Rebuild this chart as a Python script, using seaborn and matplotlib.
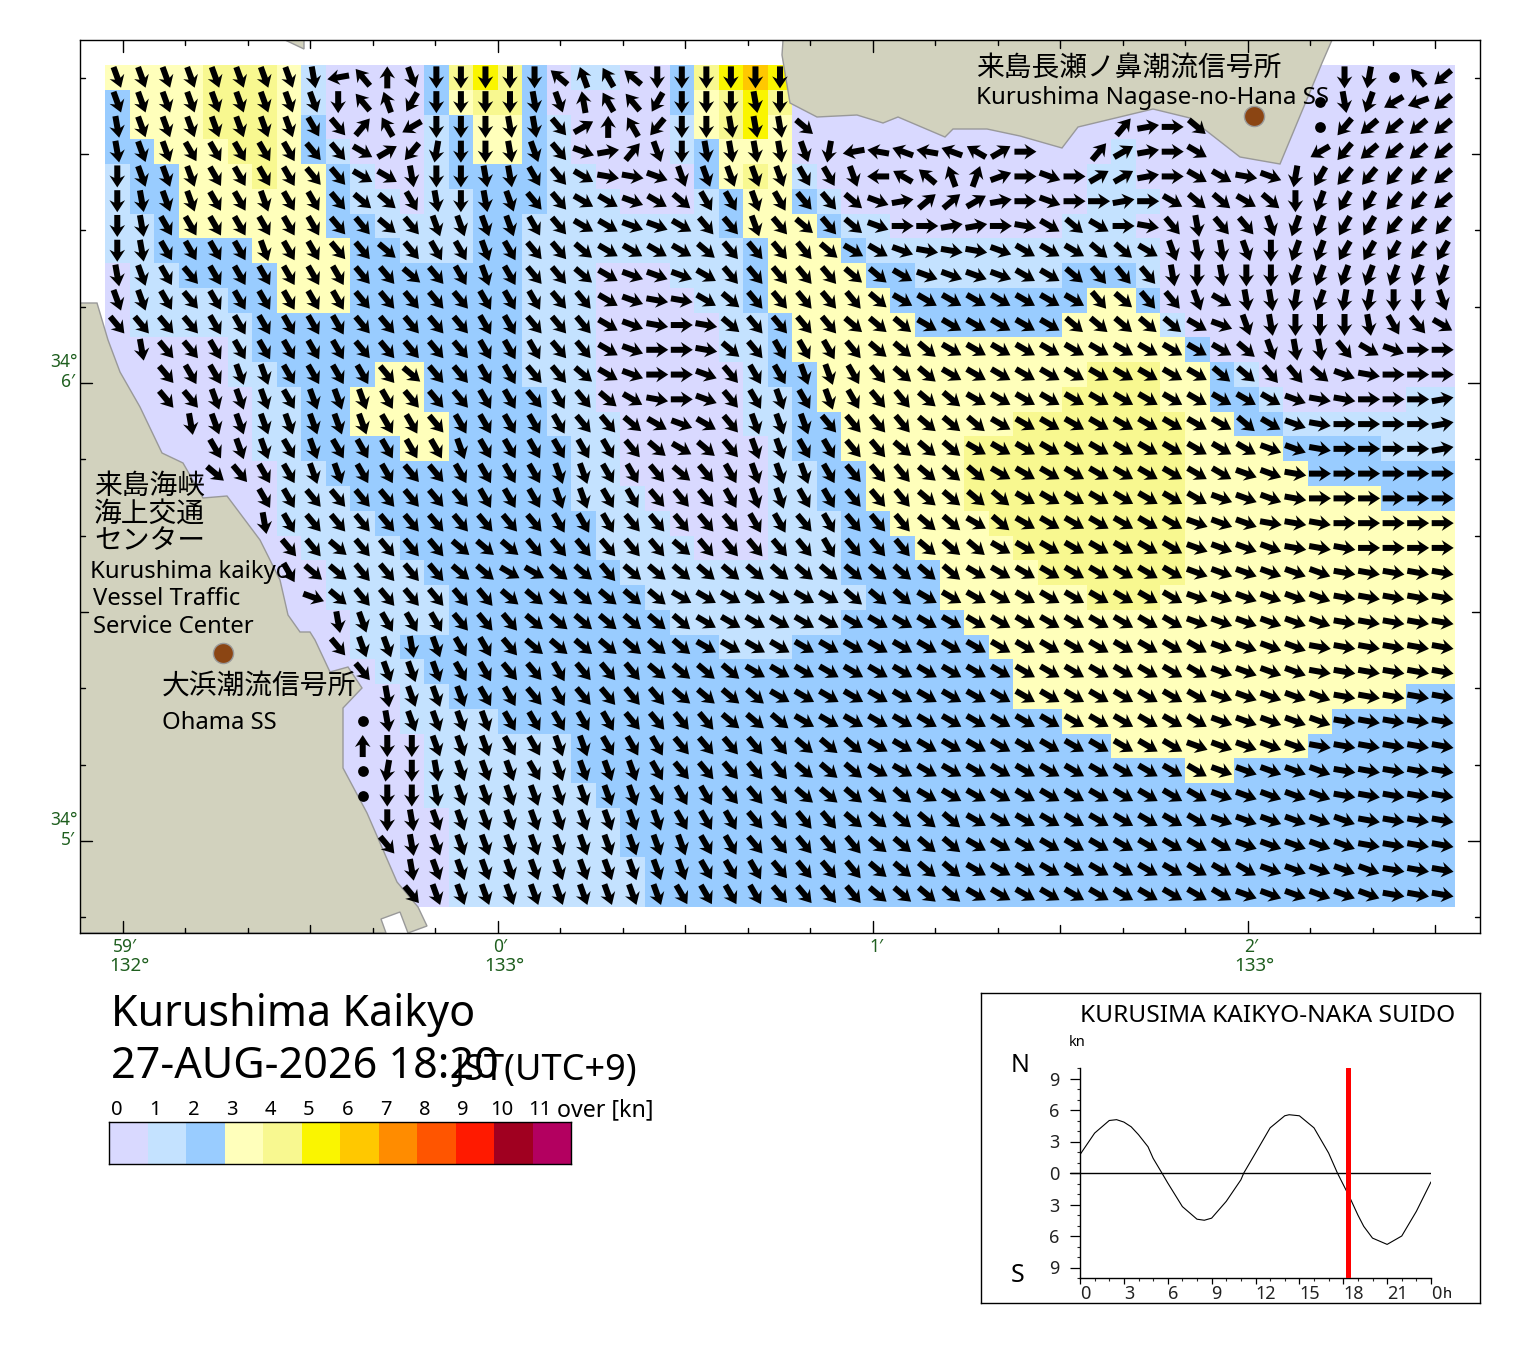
import numpy as np
import pandas as pd
import matplotlib
matplotlib.use("Agg")
import matplotlib.pyplot as plt
from matplotlib.colors import ListedColormap
from matplotlib.patches import Polygon
import seaborn as sns

sns.set_style("white")
plt.rcParams['font.family'] = ['Noto Sans', 'Noto Sans CJK JP', 'DejaVu Sans']

W, H = 1520, 1353

# ------------------------------------------------------------------ data
SPEED_COLORS = ['#d9d9ff', '#c4e2ff', '#99ccff', '#ffffbb', '#f8f890', '#faf500',
                '#ffc800', '#ff8c00', '#ff5500', '#ff1a00', '#a00020', '#b30060']
SPEED_LABELS = ['0', '1', '2', '3', '4', '5', '6', '7', '8', '9', '10', '11']

# speed class per cell, one string per row (groups of 10 columns)
speed_rows = [
    "3333444310 0002454201 1002456500 0000000000 0000000000 00000",
    "2333444310 0002344200 0002345400 0000000000 0000000000 00000",
    "2333444320 0001233210 0001345300 0000000000 0000000000 00000",
    "2233344321 0001233210 0001233300 0000000000 0100000000 00000",
    "1223334332 1001222211 0000234310 0000000000 1100000000 00000",
    "1223333332 1101122211 1000123321 0000000000 1110000000 00000",
    "1123333332 2111122111 1111123332 1100000001 1100000000 00000",
    "1122223333 2211122111 1111112333 2111111111 1110000000 00000",
    "0112222333 2222222111 0001112333 3221111112 2210000000 00000",
    "0111122333 2222222111 0000112333 3322222222 3320000000 00000",
    "0111112222 2222222111 0000011233 3332222223 3331000000 00000",
    "0000012222 2222222111 0000011233 3333333333 3333200000 00000",
    "0000011222 2332222111 0000001223 3333333333 4443321000 00000",
    "0000001122 3332222211 0000001123 3333333334 4443322100 00011",
    "0000001122 3333222211 1000001122 3333333444 4444332211 11111",
    "0000001122 2233222221 1000000122 3333344444 4444333322 22111",
    "0000000112 2222222221 1000000112 2333344444 4444333332 22222",
    "0000000111 2222222221 1100000112 2333344444 4444333333 33222",
    "0000000111 1222222222 1110000111 2233334444 4444333333 33333",
    "0000000011 1122222222 1111000111 2223333444 4444333333 33333",
    "0000000001 1112222222 2111111111 2222333344 4444333333 33333",
    "0000000001 1111222222 2211111111 1222333333 4443333333 33333",
    "0000000000 1111222222 2221111111 2222233333 3333333333 33333",
    "0000000000 1122222222 2222211122 2222223333 3333333333 33333",
    "0000000000 0112222222 2222222222 2222222333 3333333333 33333",
    "0000000000 0011222222 2222222222 2222222333 3333333333 33322",
    "0000000000 0011112222 2222222222 2222222223 3333333333 22222",
    "0000000000 0001111112 2222222222 2222222222 2333333332 22222",
    "0000000000 0001111112 2222222222 2222222222 2222332222 22222",
    "0000000000 0001111111 2222222222 2222222222 2222222222 22222",
    "0000000000 0000111111 1222222222 2222222222 2222222222 22222",
    "0000000000 0000111111 1222222222 2222222222 2222222222 22222",
    "0000000000 0000111111 1122222222 2222222222 2222222222 22222",
    "0000000000 0000111111 1122222222 2222222222 2222222222 22222",
]

# flow bearing per cell: 0-9a-z = tens of degrees clockwise from north,
# "." = slack water (dot), "_" = no mark
bearing_rows = [
    "gggggggghq w0giiiiivy xviiiiii__ __________ __________ ij.wn",
    "gggggggggi wyliiiihgz xwliiihi__ __________ _________. hkopn",
    "hgggggggfe 4xoiiihhe6 0xmiihhhd_ __________ _489d____. mnnnn",
    "hggfffffee c6mjiihgeb 84gihhhhgj qststu69__ 4689c____o mnnnn",
    "igggffffee cchiihhfec aabgggggff gruvy279b9 6689ccabjl mmmmn",
    "ihggffgffe ddfhihgeec cbcdffgfee db855689b9 989cddcdik llmmn",
    "ihfffffffe edeggggfec cbbceegede db99889acd c9aeheegkk llmmm",
    "ihffffgffe edeffgfeed ccccdeeeed ccbaaabccc ddcghhgikk lllml",
    "hgfeffffff eedefgfeed cbbbceeeee ddcbbbbccd eeehihiikk kkkkk",
    "ggfeffffff eeeeefffee cbaacdeeee edcccccccc edeegchhjk jjiig",
    "eeeeffffff eeeeeffeee cba9adeeee dddccccccd ddddcbghii ihfec",
    "_heeffffff eeeeefffee cb99adefff edddcccccc ccccccdghh ecb99",
    "__effggfff fedeeffeed cb99beffgg feddcccccc cccccddeed ba999",
    "__eegggfgg gfeeeffefe dca9befgfg feeddccccc ccccccccba a9998",
    "___hgggggg gffefffffe edcbceggge eeedddcccc ccccccdcba 99998",
    "____fggfgf ffffgfffff fedcdeggff eedddccccc cccccccbba 99998",
    "____deffgg ffeeffffgg ffedefgggf eeedddcccc ccccccbba9 99999",
    "______ffee eeeeefffgg ffeeefggff eeeddddccc cccccbbba9 99999",
    "______hfee eeeeeeeeff feeeeeffef eeeddcdccc ccccbbbaaa 99999",
    "_______eed eeeedddeee eeedeeeeef eeedddcccc ccccbbbbaa a9999",
    "_______fdd eeeeddccdd eddddddddd dddddccccc ccccbbbbbb aaaaa",
    "________bd eeeeeedddd dddccccccc dddccccccc ccccbbbbbb aaaaa",
    "_________h gfffeeeddd ddddcccccc cccccccccc ccccbbbbbb aaaaa",
    "_________e gghgffeddd ddddcccccc cccccccccc cccccbbbba aaaaa",
    "__________ egggffeefe eeddddcccc cccccccccc cccccbbbba aaaaa",
    "__________ _hgggffefe eeeddddccc cccccccccc cccccbbbbb aaaaa",
    "__________ .hggggffff feeeedddcc cccccccccc cccccbbbbb aaaaa",
    "__________ 0iigggffgg fffeeeeedd dccccccccc ccccbbbbba aaaaa",
    "__________ .jihgggfgg ggfeeeeedd dccccccccc cccccbbbbb aaaaa",
    "__________ .iihgggggg ggfffeeedd dddccccccc cccccbbbbb aaaaa",
    "__________ _ihggggggg gggfffeeee dddddccccc cccccbbbbb baaaa",
    "__________ _ehggggggg ggggffeeee eddddccccc ccccccbbbb baaaa",
    "__________ __hggggggg ggggfffeee eddddccccc cccccccbbb bbaaa",
    "__________ __eggggggg gggffffeee eddddccccc ccccccbbbb bbaaa",
]

# tidal current at the channel (hours, knots; north positive)
tide_hours = [0, 1, 2, 2.5, 3, 3.5, 4, 4.65, 5, 5.6, 6, 7, 8, 8.5, 9, 10, 11, 11.2, 12, 13, 14,
              14.3, 15, 16, 17, 17.6, 18, 18.47, 19, 19.4, 20, 21, 22, 23, 24]
tide_knots = [1.75, 3.8, 5.0, 5.08, 4.85, 4.4, 3.65, 2.5, 1.4, 0.0, -0.95, -3.2, -4.4, -4.5, -4.3,
              -2.7, -0.65, 0.0, 1.9, 4.3, 5.45, 5.55, 5.45, 4.3, 1.9, 0.0, -1.1, -2.4, -4.0, -5.08,
              -6.2, -6.8, -6.0, -3.65, -0.85]
now_hour = 18.33
tide_ticks = [0, 3, 6, 9, 12, 15, 18, 21, 24]
tide_tick_labels = ['0', '3', '6', '9', '12', '15', '18', '21', '0']
knot_ticks = [-9, -6, -3, 0, 3, 6, 9]
knot_tick_labels = ['9', '6', '3', '0', '3', '6', '9']

# coastline outlines (image pixels)
west_x = [80, 97, 108, 120, 140, 162, 183, 203, 227, 260, 280, 288, 300, 310, 315, 330, 348, 362, 343, 343,
          367, 397, 418, 427, 408, 400, 381, 386, 80]
west_y = [303, 303, 340, 372, 407, 453, 463, 498, 496, 540, 580, 615, 632, 632, 640, 672, 667, 688, 708, 768,
          813, 882, 907, 926, 933, 912, 919, 933, 933]
north_x = [783, 782, 790, 817, 857, 883, 898, 945, 953, 987, 1020, 1062, 1078, 1153, 1190, 1240, 1280, 1322, 1332]
north_y = [40, 55, 103, 117, 115, 123, 117, 137, 129, 129, 136, 148, 127, 109, 118, 157, 164, 63, 40]
islet_x = [285, 304, 304]
islet_y = [40, 49, 40]

# ------------------------------------------------------------------ frame
fig = plt.figure(figsize=(W / 100, H / 100), dpi=100, facecolor='white')


def axes_px(x0, y0, x1, y1):
    return fig.add_axes([x0 / W, 1 - y1 / H, (x1 - x0) / W, (y1 - y0) / H])


def ftext(x, y, s, size, color='black', ha='left', va='center', **kw):
    fig.text(x / W, 1 - y / H, s, fontsize=size, color=color, ha=ha, va=va, zorder=20, **kw)


ax = axes_px(80, 40, 1480, 933)
CW, CH = 24.545, 24.765
col = lambda px: (np.asarray(px, float) - 105) / CW
row = lambda py: (np.asarray(py, float) - 65) / CH

speed = np.array([[int(c) for c in r.replace(' ', '')] for r in speed_rows])
bearing_text = [r.replace(' ', '') for r in bearing_rows]
assert speed.shape == (34, 55), speed.shape
assert all(len(r) == 55 for r in bearing_text), [len(r) for r in bearing_text]

cmap = ListedColormap(SPEED_COLORS)
sns.heatmap(speed, ax=ax, cmap=cmap, vmin=0, vmax=12, cbar=False,
            xticklabels=False, yticklabels=False, linewidths=0, rasterized=True)

for xs, ys in ((west_x, west_y), (north_x, north_y), (islet_x, islet_y)):
    ax.add_patch(Polygon(np.c_[col(xs), row(ys)], closed=True, facecolor='#d2d2be',
                         edgecolor='#999999', linewidth=1, zorder=3))

# arrows
rows_i, cols_i, deg = [], [], []
dot_r, dot_c = [], []
for i, r in enumerate(bearing_text):
    for j, c in enumerate(r):
        if c == '_':
            continue
        if c == '.':
            dot_r.append(i + .5)
            dot_c.append(j + .5)
            continue
        rows_i.append(i + .5)
        cols_i.append(j + .5)
        deg.append(int(c, 36) * 10)
theta = np.radians(deg)
LEN = 22
ax.quiver(cols_i, rows_i, LEN * np.sin(theta), LEN * np.cos(theta), angles='uv', units='dots',
          scale_units='dots', scale=1, width=6, headwidth=2.6, headlength=2.0, headaxislength=1.6,
          pivot='mid', color='black', linewidth=0, zorder=5)
sns.scatterplot(x=dot_c, y=dot_r, ax=ax, color='black', s=60, linewidth=0, legend=False, zorder=5)

# station markers
for px, py in ((1254, 116), (223, 653)):
    ax.plot(col(px), row(py), 'o', ms=14.5, mfc='#8b4513', mec='#999999', mew=1, zorder=4)

x0, x1 = col(80), col(1480)
y0, y1 = row(40), row(933)
ax.set_xlim(x0, x1)
ax.set_ylim(y1, y0)
ax.set_xticks([])
ax.set_yticks([])
ax.set_xlabel('')
ax.set_ylabel('')
for s in ax.spines.values():
    s.set_visible(True)
    s.set_color('black')
    s.set_linewidth(1.0)
    s.set_zorder(10)

# graticule ticks: 10 s, with longer ones at 30 s and at the full minute
for k in range(-1, 22):
    px = 123 + 62.5 * k
    if px <= 81 or px >= 1479:
        continue
    L = 12 if k % 6 == 0 else (8 if k % 3 == 0 else 5)
    ax.plot([col(px)] * 2, [y1, y1 - L / CH], color='black', lw=1, zorder=9)
    ax.plot([col(px)] * 2, [y0, y0 + L / CH], color='black', lw=1, zorder=9)
for k in range(-1, 11):
    py = 841 - 76.33 * k
    L = 12 if k % 6 == 0 else (8 if k % 3 == 0 else 5)
    ax.plot([x0, x0 + L / CW], [row(py)] * 2, color='black', lw=1, zorder=9)
    ax.plot([x1, x1 - L / CW], [row(py)] * 2, color='black', lw=1, zorder=9)

GREEN = '#1f5f1f'
for px, s in ((125, '59′'), (500, '0′'), (876, '1′'), (1251, '2′')):
    ftext(px, 947, s, 12.5, GREEN, ha='center')
for px, s in ((129, '132°'), (504, '133°'), (1254, '133°')):
    ftext(px, 966, s, 13.5, GREEN, ha='center')
for py, s in ((361, '6′'), (819, '5′')):
    ftext(64, py + 1, '34°', 12.5, GREEN, ha='center')
    ftext(68, py + 21, s, 12.5, GREEN, ha='center')

# place names
ftext(976, 70, '来島長瀬ノ鼻潮流信号所', 20)
ftext(976, 98, 'Kurushima Nagase-no-Hana SS', 17.3)
ftext(94, 487, '来島海峡', 20)
ftext(94, 515, '海上交通', 20)
ftext(94, 542, 'センター', 20)
ftext(90, 572, 'Kurushima kaikyo', 17.2)
ftext(93, 599, 'Vessel Traffic', 17.2)
ftext(93, 627, 'Service Center', 17.2)
ftext(162, 687, '大浜潮流信号所', 20)
ftext(162, 723, 'Ohama SS', 17.2)

# title block
ftext(111, 1015, 'Kurushima Kaikyo', 31)
ftext(111, 1067, '27-AUG-2026 18:20', 31)
ftext(455, 1071, 'JST(UTC+9)', 26)

# colour scale
cax = axes_px(109, 1122, 571, 1164)
sns.heatmap(np.arange(12).reshape(1, 12), ax=cax, cmap=cmap, vmin=0, vmax=12, cbar=False,
            xticklabels=False, yticklabels=False, linewidths=0)
for s in cax.spines.values():
    s.set_visible(True)
    s.set_color('black')
    s.set_linewidth(1)
for i, s in enumerate(SPEED_LABELS):
    ftext(116.5 + 38.5 * i, 1110, s, 14.5, ha='center')
ftext(557, 1110, 'over [kn]', 16.7)

# tide panel
box = axes_px(981, 993, 1480, 1303)
box.set_xticks([])
box.set_yticks([])
for s in box.spines.values():
    s.set_visible(True)
    s.set_color('black')
    s.set_linewidth(1)

tax = axes_px(1080, 1068, 1431, 1278)
tax.patch.set_alpha(0)
sns.lineplot(data=pd.DataFrame({'hour': tide_hours, 'knots': tide_knots}), x='hour', y='knots', ax=tax,
             color='black', lw=0.8, zorder=3)
tax.set_xlim(0, 24)
tax.set_ylim(-10, 10)
tax.set_xlabel('')
tax.set_ylabel('')
tax.set_xticks(tide_ticks)
tax.set_xticklabels(tide_tick_labels)
tax.set_xticks(range(25), minor=True)
tax.set_yticks(knot_ticks)
tax.set_yticklabels(knot_tick_labels)
tax.set_yticks(np.arange(-10, 11), minor=True)
tax.tick_params(axis='both', which='major', direction='out', length=7.5, width=0.9, labelsize=13,
                color='black', labelcolor='#222222', left=True, bottom=True)
tax.tick_params(axis='y', which='major', pad=7)
tax.tick_params(axis='x', which='major', length=4, pad=1)
tax.tick_params(axis='both', which='minor', direction='out', length=2, width=0.8, left=True, bottom=True)
for lab in tax.get_xticklabels():
    lab.set_ha('left')
sns.despine(ax=tax)
for side in ('left', 'bottom'):
    tax.spines[side].set_color('black')
    tax.spines[side].set_linewidth(1)
tax.axhline(0, color='black', lw=1, zorder=2)
tax.plot([-10 / 14.625, 0], [0, 0], color='black', lw=1, clip_on=False)
tax.axvline(now_hour, color='#ff0000', lw=3.6, zorder=5)
ftext(1080, 1016, 'KURUSIMA KAIKYO-NAKA SUIDO', 17.6)
ftext(1069, 1042, 'kn', 10.5)
ftext(1011, 1065, 'N', 18)
ftext(1011, 1275, 'S', 18)
ftext(1443, 1294, 'h', 10.5)

fig.savefig('out.png', dpi=100, facecolor='white')
